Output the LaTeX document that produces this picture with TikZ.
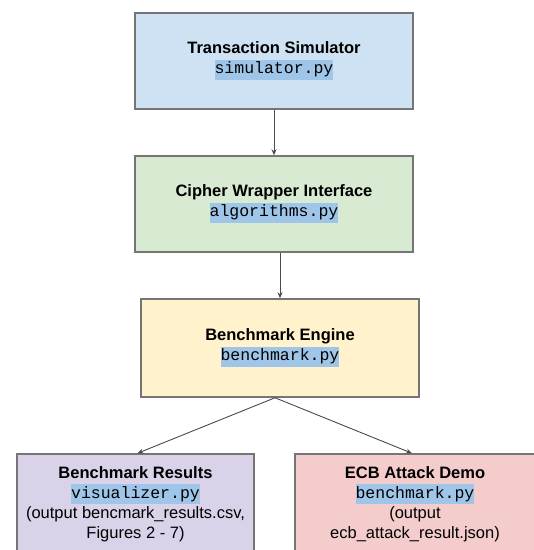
\documentclass[tikz,border=0pt]{standalone}
\usepackage{fontspec}
\setmainfont{Liberation Sans}
\setmonofont{Liberation Mono}
\usetikzlibrary{arrows.meta}
\definecolor{bluefill}{HTML}{CFE2F3}
\definecolor{greenfill}{HTML}{D9EAD3}
\definecolor{yellowfill}{HTML}{FFF2CC}
\definecolor{purplefill}{HTML}{D9D2E9}
\definecolor{redfill}{HTML}{F4CCCC}
\definecolor{hlblue}{HTML}{9FC5E8}
\definecolor{edgegray}{HTML}{757575}
\definecolor{arrgray}{HTML}{4A4A4A}
\newcommand{\hlcode}[1]{{\setlength{\fboxsep}{0pt}\colorbox{hlblue}{\strut\ttfamily #1}}}
\tikzset{
  box/.style={draw=edgegray, line width=1.5pt, align=center, inner sep=0pt,
    font=\fontsize{16.5}{20}\selectfont},
  arr/.style={draw=arrgray, line width=0.9pt, -{Stealth[length=6pt,width=5pt]}}
}
\begin{document}
\begin{tikzpicture}[x=1pt,y=-1pt]
\useasboundingbox (0,0) rectangle (534,550);
\node[box, fill=bluefill, minimum width=278pt, minimum height=96pt] (sim) at (274,61)
  {\textbf{Transaction Simulator}\\\hlcode{simulator.py}};
\node[box, fill=greenfill, minimum width=278pt, minimum height=96pt] (alg) at (274,204)
  {\textbf{Cipher Wrapper Interface}\\\hlcode{algorithms.py}};
\node[box, fill=yellowfill, minimum width=278pt, minimum height=98pt] (eng) at (280,348)
  {\textbf{Benchmark Engine}\\\hlcode{benchmark.py}};
\node[box, fill=purplefill, minimum width=237pt, minimum height=100pt] (res) at (135.5,504)
  {\textbf{Benchmark Results}\\\hlcode{visualizer.py}\\(output bencmark\_results.csv,\\Figures 2 - 7)};
\node[box, fill=redfill, minimum width=240pt, minimum height=100pt] (ecb) at (415,504)
  {\textbf{ECB Attack Demo}\\\hlcode{benchmark.py}\\(output\\ecb\_attack\_result.json)};
\draw[arr] (sim.south) -- (sim.south |- alg.north);
\draw[arr] (eng.north |- alg.south) -- (eng.north);
\draw[arr] ([xshift=-5pt]eng.south) -- ([xshift=2pt]res.north);
\draw[arr] ([xshift=-5pt]eng.south) -- ([xshift=-3pt]ecb.north);
\end{tikzpicture}
\end{document}
